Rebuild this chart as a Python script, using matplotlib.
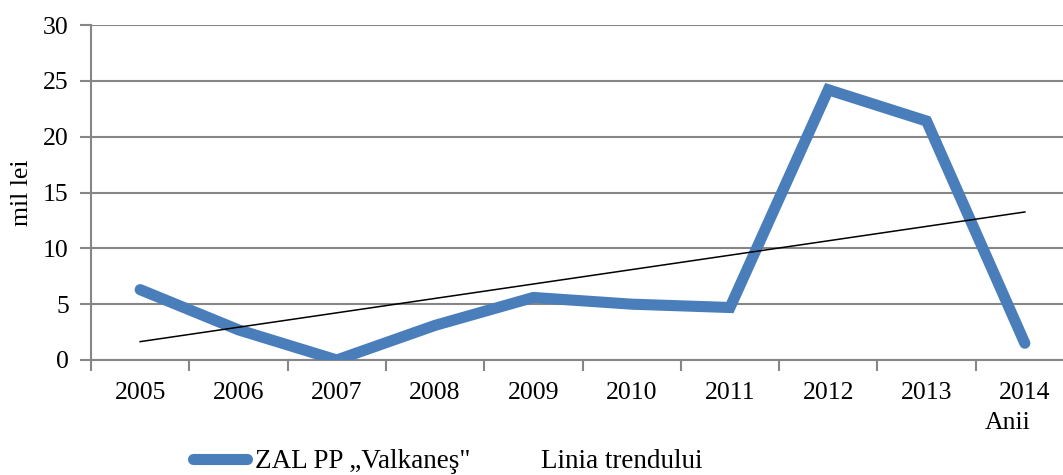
import matplotlib
matplotlib.use("Agg")
import matplotlib.pyplot as plt
import numpy as np
from matplotlib.lines import Line2D

years = ["2005", "2006", "2007", "2008", "2009", "2010", "2011", "2012", "2013", "2014"]
values = [6.3, 2.7, 0.0, 3.1, 5.6, 5.0, 4.7, 24.2, 21.4, 1.5]
series_name = "ZAL PP \u201eValkane\u015f\""
trend_name = "Linia trendului"
y_ticks = [0, 5, 10, 15, 20, 25, 30]

plt.rcParams['font.family'] = ['Liberation Serif', 'DejaVu Serif']
fs = 18.5
grey = "#868686"
blue = "#4A7EBB"

fig = plt.figure(figsize=(10.63, 4.75), dpi=100)
ax = fig.add_axes([91/1063, 1-360/475, 983/1063, 335/475])

x = np.arange(len(years))
ax.plot(x, values, color=blue, lw=8, solid_capstyle='round', solid_joinstyle='miter', zorder=3)
coef = np.polyfit(x, values, 1)
ax.plot(x, np.polyval(coef, x), color='black', lw=1.1, zorder=4)

ax.set_xlim(-0.5, len(years) - 0.5)
ax.set_ylim(0, 30)
ax.set_yticks(y_ticks)
ax.set_yticklabels([str(v) for v in y_ticks], fontsize=fs)
ax.yaxis.grid(True, color=grey, lw=1.5)
ax.set_axisbelow(True)

ax.set_xticks(np.arange(-0.5, len(years), 1.0))
ax.set_xticklabels([])
ax.set_xticks(x, minor=True)
ax.set_xticklabels(years, minor=True, fontsize=fs)
ax.tick_params(axis='x', which='major', length=8, width=1.5, color=grey, direction='out')
ax.tick_params(axis='x', which='minor', length=0, pad=16)
ax.tick_params(axis='y', length=8, width=1.5, color=grey, pad=8)

for s in ['top', 'right']:
    ax.spines[s].set_visible(False)
for s in ['left', 'bottom']:
    ax.spines[s].set_color(grey)
    ax.spines[s].set_linewidth(1.5)

ax.set_ylabel("mil lei", fontsize=fs, labelpad=7)
fig.text(1008/1063, 1-423/475, "Anii", fontsize=fs, ha='center', va='center')

handles = [Line2D([0], [0], color=blue, lw=8, solid_capstyle='round'),
           Line2D([0], [0], color='none', lw=1)]
fig.legend(handles, [series_name, trend_name], loc='center', ncol=2,
           bbox_to_anchor=(448/1063, 1-462/475), frameon=False, fontsize=19.5,
           handlelength=2.0, handletextpad=0.3, columnspacing=0.3)

fig.savefig("out.png", dpi=100)
